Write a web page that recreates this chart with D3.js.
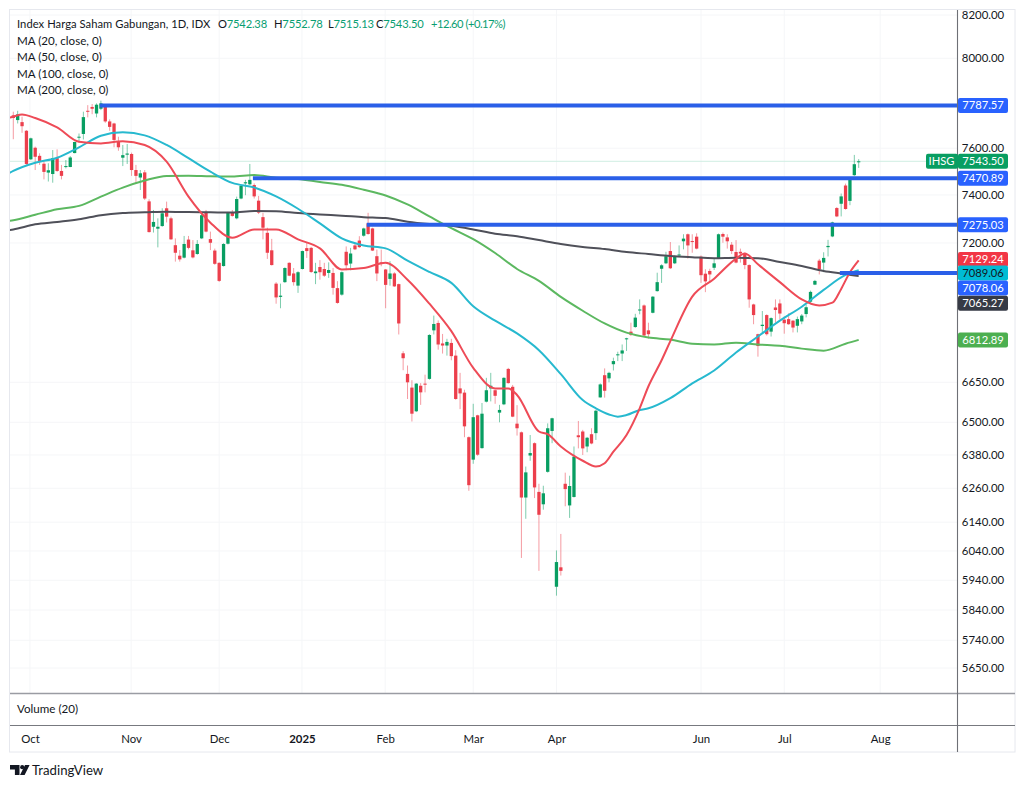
<!DOCTYPE html>
<html><head><meta charset="utf-8">
<script src="https://cdn.jsdelivr.net/npm/d3@7"></script>
<style>html,body{margin:0;padding:0;background:#fff}svg{display:block}text{font-family:Lato,"Open Sans",sans-serif}</style>
</head><body><svg id="c" width="1024" height="786"></svg>
<script>
const opens=[7744,7723,7714,7676,7552,7602,7567,7533,7495,7489,
7557,7502,7519,7519,7579,7646,7662,7764,7781,7752,
7773,7782,7717,7708,7627,7559,7572,7575,7506,7474,
7496,7373,7267,7259,7270,7344,7302,7191,7148,7140,
7214,7170,7155,7219,7329,7216,7169,7119,7106,7197,
7326,7302,7385,7449,7445,7442,7376,7307,7242,7170,
7035,6982,7041,7119,7076,7027,7094,7179,7180,7077,
7102,7094,7078,7078,7017,6991,7164,7116,7190,7210,
7230,7281,7260,7146,7121,7092,7054,7076,7033,6761,
6682,6630,6541,6637,6645,6663,6850,6879,6799,6791,
6801,6752,6627,6611,6445,6363,6526,6405,6577,6627,
6620,6536,6567,6701,6633,6495,6463,6227,6378,6423,
6247,6203,6319,6468,5918,5984,6276,6199,6229,6452,
6466,6411,6456,6460,6593,6677,6665,6719,6754,6760,
6815,6845,6863,6930,6948,6850,6919,7005,7095,7117,
7167,7117,7151,7207,7236,7208,7226,7144,7075,7086,
7099,7138,7237,7223,7193,7163,7164,7157,7110,6952,
6835,6867,6910,6845,6940,6956,6892,6894,6888,6868,
6885,6914,6963,7031,7128,7120,7183,7227,7345,7363,
7440,7375,7484,7542.38];
const highs=[7760,7764,7738,7679,7646,7607,7578,7542,7535,7592,
7595,7528,7549,7566,7628,7664,7760,7789,7794,7797,
7809,7789,7726,7711,7650,7614,7618,7581,7528,7506,
7506,7382,7337,7302,7344,7372,7309,7219,7171,7229,
7229,7212,7212,7320,7337,7247,7177,7121,7199,7329,
7337,7393,7442,7464,7532,7449,7396,7325,7263,7217,
7041,7035,7101,7121,7098,7085,7169,7201,7184,7119,
7130,7119,7121,7098,7045,7084,7186,7180,7201,7228,
7263,7325,7263,7173,7173,7094,7126,7081,7035,6769,
6714,6658,6647,6647,6679,6835,6908,6889,6836,6817,
6817,6773,6686,6622,6448,6569,6528,6572,6667,6686,
6622,6565,6669,6705,6640,6564,6466,6338,6453,6426,
6276,6269,6496,6517,6042,6099,6316,6305,6411,6505,
6472,6446,6478,6546,6646,6703,6690,6744,6767,6795,
6821,6880,6915,6972,6952,6880,6985,7079,7113,7164,
7204,7149,7190,7236,7239,7236,7240,7149,7093,7095,
7136,7239,7243,7236,7204,7212,7177,7160,7113,6955,
6837,6926,6913,6901,6972,6972,6905,6917,6890,6904,
6914,6952,7007,7050,7135,7162,7213,7288,7349,7406,
7448,7469,7571,7552.78];
const lows=[7639,7708,7667,7528,7549,7506,7528,7466,7457,7452,
7498,7466,7513,7518,7578,7624,7638,7735,7749,7735,
7767,7711,7676,7604,7589,7523,7532,7481,7449,7421,
7379,7243,7243,7182,7267,7285,7213,7124,7124,7137,
7174,7137,7152,7216,7244,7171,7111,7042,7104,7194,
7309,7298,7382,7399,7442,7385,7320,7215,7135,7108,
6955,6937,7038,7065,7027,6998,7092,7139,7078,7033,
7051,7062,7058,6991,6955,6987,7089,7089,7171,7180,
7226,7234,7167,7045,7105,6937,7027,7022,6834,6696,
6587,6503,6538,6565,6612,6660,6834,6775,6760,6752,
6734,6584,6549,6445,6251,6348,6377,6403,6574,6578,
6569,6500,6564,6645,6519,6451,6016,6152,6359,6225,
5972,6184,6316,6423,5888,5956,6196,6155,6227,6404,
6380,6390,6419,6435,6592,6592,6650,6695,6731,6731,
6770,6828,6860,6913,6828,6818,6917,7003,7038,7114,
7094,7114,7146,7174,7136,7160,7174,7038,7001,7038,
7090,7136,7201,7177,7155,7117,7120,7093,6939,6874,
6748,6835,6830,6826,6880,6893,6837,6872,6842,6842,
6874,6901,6953,7029,7072,7081,7145,7224,7307,7310,
7338,7357,7481,7515.13];
const closes=[7732,7748,7696,7532,7643,7563,7545,7498,7505,7557,
7502,7481,7523,7560,7627,7650,7736,7761,7773,7791,
7797,7717,7693,7636,7604,7570,7577,7506,7481,7492,
7385,7245,7287,7267,7323,7309,7215,7160,7133,7196,
7180,7141,7196,7315,7247,7201,7115,7046,7196,7326,
7312,7383,7439,7454,7464,7394,7326,7263,7160,7110,
6980,6987,7098,7067,7041,7081,7167,7167,7082,7084,
7081,7067,7090,7018,6958,7081,7109,7157,7174,7183,
7260,7237,7169,7076,7119,7030,7076,7024,6877,6742,
6650,6532,6645,6612,6641,6832,6875,6795,6791,6805,
6750,6587,6608,6485,6271,6519,6381,6532,6620,6637,
6599,6546,6667,6647,6521,6478,6227,6317,6387,6263,
6166,6242,6478,6515,6002,5972,6257,6268,6374,6445,
6404,6443,6422,6543,6642,6618,6686,6731,6757,6772,
6819,6833,6900,6932,6830,6835,6983,7041,7109,7146,
7097,7144,7153,7218,7190,7204,7177,7069,7044,7072,
7117,7236,7226,7207,7167,7120,7157,7110,6972,6910,
6789,6872,6835,6898,6930,6916,6878,6874,6861,6894,
6908,6941,7002,7046,7093,7139,7188,7285,7310,7394,
7341,7465,7531,7543.50];

// moving averages read at sampled bar indices
const ma20Idx=[-1,0,2,5,10,15,20,25,30,35,40,45,50,55,60,65,70,75,80,85,90,95,100,105,110,113,115,120,122,125,130,133,135,137,140,143,145,148,150,155,160,165,167,170,175,180,184,187,189,191,193];
const ma20=[7733,7738,7748,7732,7691,7628,7621,7630,7614,7542,7393,7284,7222,7256,7256,7215,7178,7092,7098,7119,7051,6955,6847,6705,6627,6627,6602,6466,6456,6411,6359,6338,6350,6392,6453,6552,6635,6734,6808,6983,7055,7136,7157,7113,7041,6972,6948,6959,7014,7081,7129.24];
const ma50Idx=[-1,0,5,10,15,20,25,30,35,40,45,50,55,60,65,70,75,80,85,90,95,100,105,110,115,120,125,130,133,136,138,140,143,145,150,155,160,165,170,175,180,185,190,193];
const ma50=[7492,7502,7537,7559,7604,7654,7669,7656,7614,7557,7499,7451,7432,7394,7342,7281,7219,7190,7178,7128,7082,7038,6945,6888,6838,6773,6681,6583,6552,6529,6521,6527,6546,6552,6590,6646,6695,6764,6826,6888,6943,7010,7070,7089.06];
const ma100Idx=[-1,0,5,10,15,20,25,30,35,40,45,50,55,60,65,70,75,80,85,90,95,100,105,110,115,120,125,130,135,140,145,150,155,160,165,170,175,180,185,190,193];
const ma100=[7291,7294,7317,7340,7354,7393,7431,7461,7481,7482,7479,7478,7485,7473,7468,7455,7443,7422,7398,7360,7310,7261,7216,7159,7094,7046,6982,6927,6877,6841,6822,6814,6798,6795,6802,6795,6790,6779,6771,6798,6812.89];
const ma200Idx=[-1,0,5,10,15,20,25,30,35,40,45,50,55,60,65,70,75,80,85,90,95,100,105,110,115,120,125,130,135,140,145,150,155,160,165,170,175,180,185,190,193];
const ma200=[7253,7256,7277,7287,7298,7315,7324,7327,7330,7328,7327,7326,7333,7332,7324,7318,7313,7307,7303,7288,7278,7271,7256,7238,7228,7212,7196,7184,7175,7163,7155,7147,7142,7138,7140,7138,7122,7106,7086,7074,7065.27];

// horizontal levels
const levelPrices=[7787.57,7470.89,7275.03,7078.06];
const levelStartIdx=[19.8,54.7,80.7,188.7];

const yTicks=[8200,8000,7600,7400,7200,6650,6500,6380,6260,6140,6040,5940,5840,5740,5650];
const monthIdx=[3.8,26.9,47,65.9,84.9,105,124,157,176,197.9];
const monthLabels=["Oct","Nov","Dec","2025","Feb","Mar","Apr","Jun","Jul","Aug"];

// p = where each tag sits once TradingView has stacked the overlapping ones
const priceTags=[
 {t:"7787.57",p:7787.57,fill:"#2962ff",ink:"#fff"},
 {t:"7543.50",p:7543.5,fill:"#089e62",ink:"#fff"},
 {t:"7470.89",p:7470.89,fill:"#2962ff",ink:"#fff"},
 {t:"7275.03",p:7275.03,fill:"#2962ff",ink:"#fff"},
 {t:"7129.24",p:7133,fill:"#f23645",ink:"#fff"},
 {t:"7089.06",p:7078,fill:"#00bcd4",ink:"#131722"},
 {t:"7078.06",p:7018,fill:"#2962ff",ink:"#fff"},
 {t:"7065.27",p:6957,fill:"#363a45",ink:"#fff"},
 {t:"6812.89",p:6812.89,fill:"#4caf50",ink:"#fff"}];

const UP="#089e62",DOWN="#ec3f4c";
const svg=d3.select("#c");
const L=10,R=1015,AX=957.5,T=10,PB=693.5,VB=725.5,B=752;
const x=d3.scaleLinear().domain([0,193]).range([13.3,858.7]);
const y=d3.scaleLog().domain([8200,5650]).range([15,668]);
svg.append("defs").append("clipPath").attr("id","plot").append("rect").attr("x",L).attr("y",T).attr("width",AX-L).attr("height",PB-T);

// grid + frame
const g=svg.append("g");
g.selectAll(".gy").data(yTicks).join("line").attr("x1",L).attr("x2",AX).attr("y1",d=>y(d)).attr("y2",d=>y(d)).attr("stroke","#f5f6f8");
g.selectAll(".gx").data(monthIdx).join("line").attr("x1",d=>x(d)).attr("x2",d=>x(d)).attr("y1",T).attr("y2",PB).attr("stroke","#f5f6f8");
g.append("rect").attr("x",9.5).attr("y",9.5).attr("width",R-9.5).attr("height",B-9.5).attr("fill","none").attr("stroke","#e6e8ee");

const plot=svg.append("g").attr("clip-path","url(#plot)");
// last price line
plot.append("line").attr("x1",L).attr("x2",AX).attr("y1",y(7543.5)).attr("y2",y(7543.5)).attr("stroke","#cfeee2").attr("stroke-width",1);

// candles
const idx=d3.range(opens.length);
plot.append("g").selectAll("line").data(idx).join("line")
 .attr("x1",i=>x(i)).attr("x2",i=>x(i)).attr("y1",i=>y(highs[i])).attr("y2",i=>y(lows[i]))
 .attr("stroke",i=>closes[i]>=opens[i]?UP:DOWN).attr("stroke-width",0.7).attr("stroke-opacity",0.75);
plot.append("g").selectAll("rect").data(idx).join("rect")
 .attr("x",i=>x(i)-1.65).attr("width",3.3)
 .attr("y",i=>y(Math.max(opens[i],closes[i])))
 .attr("height",i=>Math.max(1,y(Math.min(opens[i],closes[i]))-y(Math.max(opens[i],closes[i]))))
 .attr("fill",i=>closes[i]>=opens[i]?UP:DOWN);

// MAs
const line=d3.line().curve(d3.curveMonotoneX).x(d=>x(d[0])).y(d=>y(d[1]));
[[ma200Idx,ma200,"#4f5059"],[ma100Idx,ma100,"#5cb860"],[ma50Idx,ma50,"#27b9cf"],[ma20Idx,ma20,"#ee4b57"]].forEach(([a,b,c])=>{
 plot.append("path").attr("d",line(a.map((v,k)=>[v,b[k]]))).attr("fill","none").attr("stroke",c).attr("stroke-width",2);
});

// levels
plot.selectAll(".lvl").data(levelPrices).join("line").attr("x1",(d,k)=>x(levelStartIdx[k])).attr("x2",AX)
 .attr("y1",d=>y(d)).attr("y2",d=>y(d)).attr("stroke","#2a5fe8").attr("stroke-width",4);

// dividers
svg.append("line").attr("x1",L).attr("x2",R).attr("y1",PB).attr("y2",PB).attr("stroke","#9a9ca3").attr("stroke-width",1.3);
svg.append("line").attr("x1",L).attr("x2",R).attr("y1",VB).attr("y2",VB).attr("stroke","#77797f").attr("stroke-width",1.1);
svg.append("line").attr("x1",AX).attr("x2",AX).attr("y1",T).attr("y2",B).attr("stroke","#6e7076").attr("stroke-width",1.1);

// axes
const yAxis=d3.axisRight(y).tickValues(yTicks).tickFormat(d3.format(".2f")).tickSize(0);
const ya=svg.append("g").attr("transform",`translate(${AX},0)`).call(yAxis);
ya.select(".domain").remove();
ya.selectAll("text").attr("x",25.5).attr("text-anchor","middle").style("font-size","11.4px").style("font-family","Lato,sans-serif").attr("fill","#131722");
const xAxis=d3.axisBottom(x).tickValues(monthIdx).tickFormat((d,k)=>monthLabels[k]).tickSize(0);
const xa=svg.append("g").attr("transform",`translate(0,${VB+6})`).call(xAxis);
xa.select(".domain").remove();
xa.selectAll("text").style("font-size","11.4px").style("font-family","Lato,sans-serif").attr("fill","#131722").style("font-weight",(d,k)=>monthLabels[k]==="2025"?"700":"400");

// price tags
const tg=svg.append("g");
priceTags.forEach(d=>{
 const cy=y(d.p);
 tg.append("rect").attr("x",958).attr("y",cy-7.5).attr("width",50).attr("height",15).attr("rx",2).attr("fill",d.fill);
 tg.append("text").attr("x",983).attr("y",cy+3.8).attr("text-anchor","middle").attr("font-size",11.2).attr("fill",d.ink).text(d.t);
});
const cy0=y(7543.5);
tg.append("rect").attr("x",926).attr("y",cy0-7.5).attr("width",32).attr("height",15).attr("rx",2).attr("fill",UP);
tg.append("text").attr("x",941.5).attr("y",cy0+3.8).attr("text-anchor","middle").attr("font-size",11.2).attr("fill","#fff").text("IHSG");

// legend
const INK="#131722",VAL="#089e72";
const leg=svg.append("text").attr("y",28).attr("font-size",11.2).attr("fill",INK).style("letter-spacing","-0.2px");
leg.append("tspan").attr("x",17).style("letter-spacing","0.05px").text("Index Harga Saham Gabungan, 1D, IDX");
[["O","7542.38",218],["H","7552.78",274],["L","7515.13",328],["C","7543.50",376]].forEach(([a,b,xp])=>{
 leg.append("tspan").attr("x",xp).text(a);
 leg.append("tspan").attr("fill",VAL).text(b);
});
leg.append("tspan").attr("x",431).attr("fill",VAL).style("letter-spacing","-0.5px").text("+12.60 (+0.17%)");
["MA (20, close, 0)","MA (50, close, 0)","MA (100, close, 0)","MA (200, close, 0)"].forEach((t,k)=>{
 svg.append("text").attr("x",17).attr("y",45+k*16.4).attr("font-size",11.6).attr("fill",INK).text(t);
});
svg.append("text").attr("x",17).attr("y",713).attr("font-size",11.6).attr("fill",INK).text("Volume (20)");

// logo
svg.append("path").attr("fill","#131722").attr("d","M10 765h9.5v10h-4.6v-5.4H10zM25 765h4.6l-5 10h-4.6z");
svg.append("circle").attr("cx",22.2).attr("cy",767.2).attr("r",2.1).attr("fill","#131722");
svg.append("text").attr("x",32).attr("y",775).attr("font-size",13.2).attr("fill","#131722").text("TradingView");
</script></body></html>
